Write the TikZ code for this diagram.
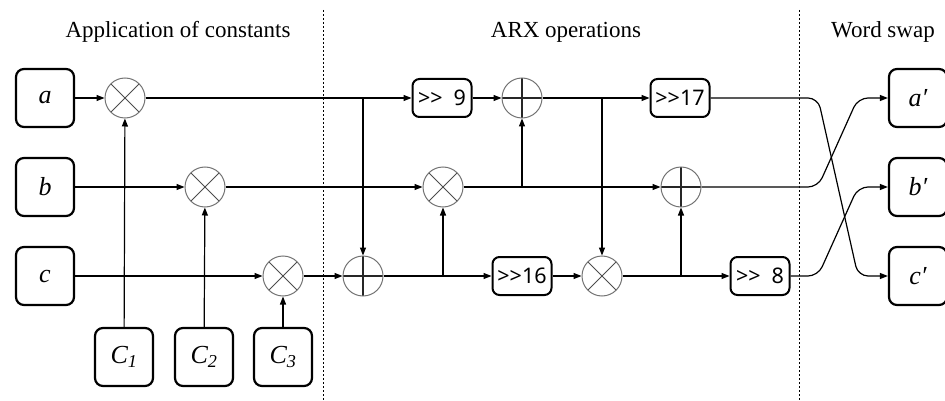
\documentclass[tikz,border=0pt]{standalone}
\usepackage{fontspec}
\setmainfont{Liberation Serif}
\newfontfamily\shiftfont{Noto Sans}
\usetikzlibrary{arrows.meta}

\begin{document}
\begin{tikzpicture}[x=1pt,y=-1pt,>={Triangle[length=8pt,width=6pt]},
  wordbox/.style={draw,line width=2.2pt,rounded corners=8pt,minimum width=58pt,minimum height=58pt,inner sep=0pt,font=\fontsize{26}{30}\selectfont\itshape},
  shiftbox/.style={draw,line width=2pt,rounded corners=7pt,minimum width=59pt,minimum height=38pt,inner sep=0pt,font=\fontsize{21.5}{24}\selectfont\shiftfont},
  opnode/.style={circle,draw=black!55,line width=1pt,minimum size=40pt,inner sep=0pt},
  mulnode/.style={opnode,path picture={\draw[black!70,line width=0.8pt] (path picture bounding box.north west) -- (path picture bounding box.south east) (path picture bounding box.north east) -- (path picture bounding box.south west);}},
  addnode/.style={opnode,path picture={\draw[black!85,line width=1.1pt] (path picture bounding box.north) -- (path picture bounding box.south) (path picture bounding box.west) -- (path picture bounding box.east);}},
  wire/.style={line width=1.2pt},
  divider/.style={dash pattern=on 2pt off 2pt,line width=0.9pt},
  section/.style={font=\fontsize{23}{27}\selectfont}]
\useasboundingbox (0,0) rectangle (945,401);
% section titles and dividers
\node[section] (tconst) at (178,32) {Application of constants};
\node[section] (tarx) at (566,32) {ARX operations};
\node[section] (tswap) at (883,32) {Word swap};
\draw[divider] (323,10) -- (323,401);
\draw[divider] (799,10) -- (799,401);
% input words and constants
\node[wordbox] (a) at (45,98) {a};
\node[wordbox] (b) at (45,187) {b};
\node[wordbox] (c) at (45,276) {c};
\node[wordbox] (C1) at (124,357) {C\textsubscript{1}};
\node[wordbox] (C2) at (204,357) {C\textsubscript{2}};
\node[wordbox] (C3) at (283,357) {C\textsubscript{3}};
\node[mulnode] (m1) at (125,98) {};
\node[mulnode] (m2) at (205,187) {};
\node[mulnode] (m3) at (283,276) {};
% ARX part
\node[addnode] (p1) at (363,276) {};
\node[mulnode] (m4) at (443,187) {};
\node[shiftbox] (s9) at (442,98) {>\kern0pt>\enspace9};
\node[addnode] (p2) at (522,98) {};
\node[shiftbox] (s16) at (522,276) {>\kern0pt>16};
\node[mulnode] (m5) at (602,276) {};
\node[shiftbox] (s17) at (680,98) {>\kern0pt>17};
\node[addnode] (p3) at (681,187) {};
\node[shiftbox] (s8) at (760,276) {>\kern0pt>\enspace8};
% output words
\node[wordbox] (aout) at (918,98) {a′};
\node[wordbox] (bout) at (918,187) {b′};
\node[wordbox] (cout) at (918,276) {c′};
\coordinate (bendL) at (818,0);
\coordinate (bendR) at (858,0);

\draw[wire,->] (a) -- (m1);
\draw[wire,->] (b) -- (m2);
\draw[wire,->] (c) -- (m3);
\draw[wire,->] (C1) -- (m1);
\draw[wire,->] (C2) -- (m2);
\draw[wire,->] (C3) -- (m3);
\draw[wire,->] (m1) -- (s9);
\draw[wire,->] (p1 |- m1) -- (p1);
\draw[wire,->] (m2) -- (m4);
\draw[wire,->] (m3) -- (p1);
\draw[wire,->] (p1) -- (s16);
\draw[wire,->] (m4 |- p1) -- (m4);
\draw[wire,->] (s9) -- (p2);
\draw[wire,->] (m4) -- (p3);
\draw[wire,->] (p2 |- m4) -- (p2);
\draw[wire,->] (p2) -- (s17);
\draw[wire,->] (m5 |- p2) -- (m5);
\draw[wire,->] (s16) -- (m5);
\draw[wire,->] (m5) -- (s8);
\draw[wire,->] (p3 |- m5) -- (p3);
% word swap
\draw[wire,->,rounded corners=10pt] (s17) -- (s17 -| bendL) -- (cout -| bendR) -- (cout);
\draw[wire,->,rounded corners=10pt] (p3) -- (p3 -| bendL) -- (aout -| bendR) -- (aout);
\draw[wire,->,rounded corners=10pt] (s8) -- (s8 -| bendL) -- (bout -| bendR) -- (bout);
\end{tikzpicture}
\end{document}
